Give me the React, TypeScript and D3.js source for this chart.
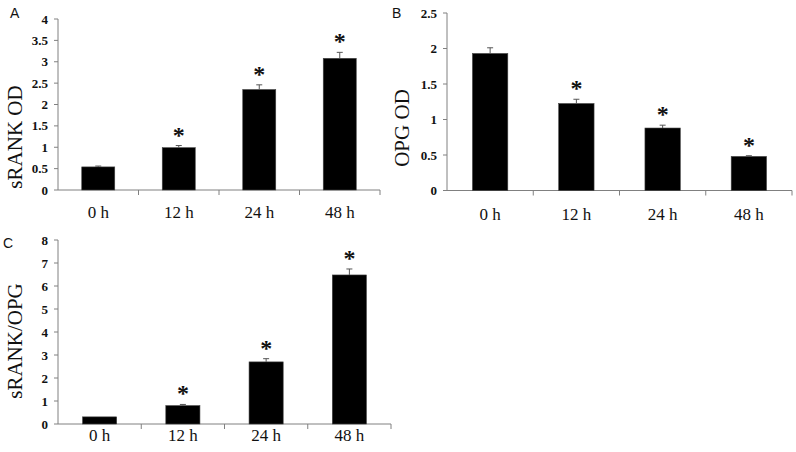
import { useEffect, useRef } from "react";
import * as d3 from "d3";

// time points shared by all three panels
const hours = ["0 h", "12 h", "24 h", "48 h"];

// A: sRANK OD
const srankMean = [0.54, 0.99, 2.35, 3.08];
const srankErr = [0.02, 0.05, 0.11, 0.14];
const srankSig = [false, true, true, true];

// B: OPG OD
const opgMean = [1.93, 1.225, 0.88, 0.48];
const opgErr = [0.08, 0.06, 0.04, 0.01];
const opgSig = [false, true, true, true];

// C: sRANK/OPG ratio
const ratioMean = [0.31, 0.8, 2.7, 6.48];
const ratioErr = [0.0, 0.05, 0.14, 0.26];
const ratioSig = [false, true, true, true];

const panels = [
  {
    letter: "A", label: "sRANK OD", mean: srankMean, err: srankErr, sig: srankSig,
    max: 4, step: 0.5, x0: 58, x1: 380, yTop: 19, y0: 190, labelY: 218,
    letterPos: [10, 18], titlePos: [15, 137],
  },
  {
    letter: "B", label: "OPG OD", mean: opgMean, err: opgErr, sig: opgSig,
    max: 2.5, step: 0.5, x0: 447, x1: 792, yTop: 13, y0: 190.5, labelY: 220,
    letterPos: [392, 18], titlePos: [402, 128],
  },
  {
    letter: "C", label: "sRANK/OPG", mean: ratioMean, err: ratioErr, sig: ratioSig,
    max: 8, step: 1, x0: 58, x1: 391, yTop: 240, y0: 424, labelY: 441,
    letterPos: [3, 248], titlePos: [15, 341],
  },
];

const axisColor = "#808080";

export default function App() {
  const svgRef = useRef<SVGSVGElement>(null);

  useEffect(() => {
    const svg = d3.select(svgRef.current);
    svg.selectAll("*").remove();

    panels.forEach((p) => {
      const g = svg.append("g");

      const x = d3.scaleBand<string>()
        .domain(hours)
        .range([p.x0, p.x1])
        .paddingInner(0.59)
        .paddingOuter(0.295);

      const y = d3.scaleLinear().domain([0, p.max]).range([p.y0, p.yTop]);
      const ticks = d3.range(0, p.max + p.step / 2, p.step);

      // y axis
      g.append("line")
        .attr("x1", p.x0).attr("x2", p.x0)
        .attr("y1", y(0)).attr("y2", y(p.max))
        .attr("stroke", axisColor);

      g.selectAll(".ytick")
        .data(ticks)
        .enter()
        .append("line")
        .attr("x1", p.x0 - 4).attr("x2", p.x0)
        .attr("y1", (d) => y(d)).attr("y2", (d) => y(d))
        .attr("stroke", axisColor);

      g.selectAll(".ylab")
        .data(ticks)
        .enter()
        .append("text")
        .attr("x", p.x0 - 10)
        .attr("y", (d) => y(d))
        .attr("dy", "0.35em")
        .attr("text-anchor", "end")
        .attr("font-family", "'Liberation Serif', 'Times New Roman', serif")
        .attr("font-weight", "bold")
        .attr("font-size", 13)
        .attr("fill", "#111")
        .text((d) => d3.format("~g")(d));

      // x axis
      g.append("line")
        .attr("x1", p.x0).attr("x2", p.x1)
        .attr("y1", y(0)).attr("y2", y(0))
        .attr("stroke", axisColor);

      const step = x.step();
      const bounds = d3.range(1, hours.length + 1).map((i) => p.x0 + i * step);
      g.selectAll(".xtick")
        .data(bounds)
        .enter()
        .append("line")
        .attr("x1", (d) => d).attr("x2", (d) => d)
        .attr("y1", y(0)).attr("y2", y(0) + 5)
        .attr("stroke", axisColor);

      g.selectAll(".xlab")
        .data(hours)
        .enter()
        .append("text")
        .attr("x", (d) => x(d)! + x.bandwidth() / 2)
        .attr("y", p.labelY)
        .attr("text-anchor", "middle")
        .attr("font-family", "'Liberation Serif', 'Times New Roman', serif")
        .attr("font-size", 17)
        .attr("fill", "#111")
        .text((d) => d);

      // bars
      g.selectAll(".bar")
        .data(hours)
        .enter()
        .append("rect")
        .attr("x", (d) => x(d)!)
        .attr("width", x.bandwidth())
        .attr("y", (d, i) => y(p.mean[i]))
        .attr("height", (d, i) => y(0) - y(p.mean[i]))
        .attr("fill", "#000")
        .attr("stroke", "#444")
        .attr("stroke-width", 0.6);

      // error bars (upper only)
      hours.forEach((h, i) => {
        const cx = x(h)! + x.bandwidth() / 2;
        const top = y(p.mean[i] + p.err[i]);
        if (p.err[i] > 0) {
          g.append("line")
            .attr("x1", cx).attr("x2", cx)
            .attr("y1", y(p.mean[i])).attr("y2", top)
            .attr("stroke", "#555");
          g.append("line")
            .attr("x1", cx - 3).attr("x2", cx + 3)
            .attr("y1", top).attr("y2", top)
            .attr("stroke", "#555");
        }
        if (p.sig[i]) {
          g.append("text")
            .attr("x", cx)
            .attr("y", top - 3)
            .attr("text-anchor", "middle")
            .attr("font-family", "'Liberation Serif', 'Times New Roman', serif")
            .attr("font-weight", "bold")
            .attr("font-size", 24)
            .attr("fill", "#111")
            .text("*");
        }
      });

      // axis title
      g.append("text")
        .attr("transform", `translate(${p.titlePos[0]},${p.titlePos[1]}) rotate(-90)`)
        .attr("text-anchor", "middle")
        .attr("dy", "0.35em")
        .attr("font-family", "'Liberation Serif', 'Times New Roman', serif")
        .attr("font-size", 21)
        .attr("fill", "#111")
        .text(p.label);

      // panel letter
      g.append("text")
        .attr("x", p.letterPos[0])
        .attr("y", p.letterPos[1])
        .attr("font-family", "'Liberation Sans', Arial, sans-serif")
        .attr("font-size", 14)
        .attr("fill", "#111")
        .text(p.letter);
    });
  }, []);

  return (
    <svg
      ref={svgRef}
      width={796}
      height={452}
      style={{ position: "absolute", left: 0, top: 0, background: "#fff" }}
    />
  );
}
